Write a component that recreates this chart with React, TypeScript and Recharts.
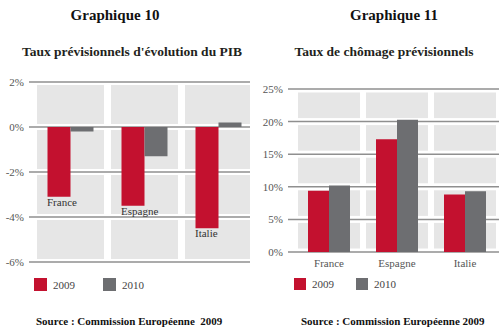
import React from "react";
import { BarChart, Bar, XAxis, YAxis, CartesianGrid, ReferenceArea, LabelList } from "recharts";

const pays = ["France", "Espagne", "Italie"];
const annees = ["2009", "2010"];

// Graphique 10 : PIB (%)
const pib2009 = [-3.1, -3.5, -4.5];
const pib2010 = [-0.2, -1.3, 0.2];
const pibTicks = [-6, -4, -2, 0, 2];

// Graphique 11 : chômage (%)
const chomage2009 = [9.4, 17.3, 8.8];
const chomage2010 = [10.2, 20.3, 9.3];
const chomageTicks = [0, 5, 10, 15, 20, 25];

const ROUGE = "#c3112f";
const GRIS = "#6d6e71";
const FOND = "#e6e6e6";
const LIGNE = "#8f8f8f";
const SERIF = "'Liberation Serif', 'DejaVu Serif', serif";

const pibData = pays.map((name, i) => ({ name, a2009: pib2009[i], a2010: pib2010[i] }));
const chomageData = pays.map((name, i) => ({ name, a2009: chomage2009[i], a2010: chomage2010[i] }));

// grey panel inset inside each band / row
const panel = (dx: number, dy: number) => (props: any) => (
  <rect
    x={props.x + dx}
    y={props.y + dy}
    width={Math.max(0, props.width - 2 * dx)}
    height={Math.max(0, props.height - 2 * dy)}
    fill={FOND}
  />
);

function panels(ticks: number[], dx: number, dy: number) {
  const out: React.ReactNode[] = [];
  pays.forEach((p) => {
    for (let i = 0; i < ticks.length - 1; i++) {
      out.push(
        <ReferenceArea
          key={`${p}-${i}`}
          x1={p}
          x2={p}
          y1={ticks[i]}
          y2={ticks[i + 1]}
          ifOverflow="visible"
          shape={panel(dx, dy)}
        />
      );
    }
  });
  return out;
}

const tickStyle = { fontSize: 11, fill: "#555", fontFamily: SERIF };

// country name under the 2009 (negative) bar
const nomSousBarre = (props: any) => {
  const { x, y, height, value } = props;
  const bas = Math.max(y, y + height);
  return (
    <text x={x - 0.5} y={bas + 9} fontSize={11} fill="#333" fontFamily={SERIF} textAnchor="start">
      {value}
    </text>
  );
};

function Legende({ left, gap, size }: { left: number; gap: number; size: number }) {
  const couleurs = [ROUGE, GRIS];
  return (
    <div style={{ position: "absolute", left, top: 278, display: "flex", fontFamily: SERIF, fontSize: 11, color: "#444" }}>
      {annees.map((a, i) => (
        <div key={a} style={{ width: gap, display: "flex", alignItems: "center" }}>
          <span style={{ width: size, height: size, background: couleurs[i], display: "inline-block", marginRight: 6 }} />
          <span>{a}</span>
        </div>
      ))}
    </div>
  );
}

export default function App() {
  return (
    <div style={{ position: "absolute", left: 0, top: 0, width: 501, height: 334, background: "#fff", overflow: "hidden", fontFamily: SERIF }}>
      <div style={{ position: "absolute", left: 40, width: 150, top: 7, textAlign: "center", fontSize: 15, fontWeight: "bold", lineHeight: "16px", color: "#111" }}>
        Graphique 10
      </div>
      <div style={{ position: "absolute", left: 0, width: 264, top: 44, textAlign: "center", fontSize: 13.5, fontWeight: "bold", lineHeight: "16px", color: "#231f20" }}>
        Taux prévisionnels d'évolution du PIB
      </div>
      <div style={{ position: "absolute", left: 319, width: 150, top: 7, textAlign: "center", fontSize: 15, fontWeight: "bold", lineHeight: "16px", color: "#111" }}>
        Graphique 11
      </div>
      <div style={{ position: "absolute", left: 284, width: 200, top: 44, textAlign: "center", fontSize: 13.5, fontWeight: "bold", lineHeight: "16px", color: "#231f20" }}>
        Taux de chômage prévisionnels
      </div>

      <div style={{ position: "absolute", left: 0, top: 72, width: 250, height: 200, overflow: "hidden" }}>
        <BarChart width={258} height={200} data={pibData} margin={{ top: 10, right: 0, bottom: 10, left: 0 }} barGap={0} barSize={23}>
          <CartesianGrid vertical={false} stroke={LIGNE} strokeWidth={1.5} />
          {panels(pibTicks, 3.5, 3)}
          <XAxis dataKey="name" hide padding={{ left: 4.5, right: 2.5 }} />
          <YAxis
            width={29}
            domain={[-6, 2]}
            ticks={pibTicks}
            tickFormatter={(v) => `${v}%`}
            axisLine={false}
            tickLine={false}
            tickSize={5}
            tickMargin={0}
            tick={tickStyle}
          />
          <Bar dataKey="a2009" fill={ROUGE} isAnimationActive={false}>
            <LabelList dataKey="name" content={nomSousBarre} />
          </Bar>
          <Bar dataKey="a2010" fill={GRIS} isAnimationActive={false} />
        </BarChart>
      </div>

      <div style={{ position: "absolute", left: 250, top: 72, width: 251, height: 200 }}>
        <BarChart width={251} height={200} data={chomageData} margin={{ top: 17, right: 2, bottom: 0, left: 0 }} barGap={0} barSize={21}>
          <CartesianGrid vertical={false} stroke={LIGNE} strokeWidth={1.5} />
          {panels(chomageTicks, 3, 3.5)}
          <XAxis
            dataKey="name"
            height={20}
            padding={{ left: 7, right: 0 }}
            axisLine={false}
            tickLine={false}
            tickSize={5}
            tickMargin={2}
            tick={tickStyle}
          />
          <YAxis
            width={38}
            domain={[0, 25]}
            ticks={chomageTicks}
            tickFormatter={(v) => `${v}%`}
            axisLine={false}
            tickLine={false}
            tickSize={5}
            tickMargin={0}
            tick={tickStyle}
          />
          <Bar dataKey="a2009" fill={ROUGE} isAnimationActive={false} />
          <Bar dataKey="a2010" fill={GRIS} isAnimationActive={false} />
        </BarChart>
      </div>

      <Legende left={34} gap={69} size={13} />
      <Legende left={294} gap={62} size={12} />

      <div style={{ position: "absolute", left: 36, top: 315, fontSize: 11, fontWeight: "bold", color: "#111", whiteSpace: "pre" }}>
        {"Source : Commission Européenne  2009"}
      </div>
      <div style={{ position: "absolute", left: 301, top: 315, fontSize: 11, fontWeight: "bold", color: "#111", whiteSpace: "pre" }}>
        {"Source : Commission Européenne 2009"}
      </div>
    </div>
  );
}
